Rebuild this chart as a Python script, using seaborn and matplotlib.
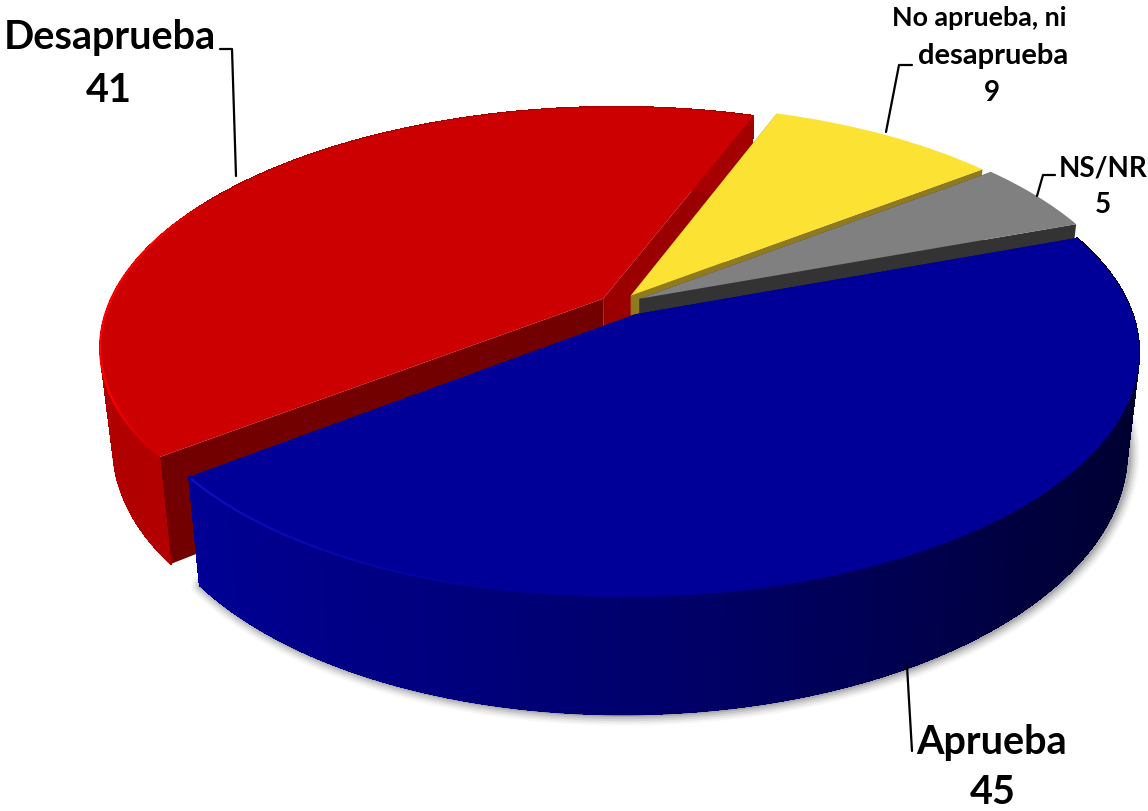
import numpy as np
import matplotlib
matplotlib.use("Agg")
import matplotlib.pyplot as plt
from matplotlib.transforms import Transform, Affine2D
from matplotlib.collections import PolyCollection, LineCollection
import seaborn as sns

# ---- data ----
categories = ["Aprueba", "Desaprueba", "No aprueba, ni\ndesaprueba", "NS/NR"]
values = [45, 41, 9, 5]

# ---- style ----
top_colors = ["#000099", "#CC0000", "#FBE233", "#808080"]
sns.set_theme(style="white")
palette = sns.color_palette(top_colors)
plt.rcParams["font.family"] = ["Lato", "DejaVu Sans"]

W, H = 1148, 812
CX, CY, A, B, C, K = 635, 313, 497, 231, 10, 0.18
DEPTH, SHRINK = 96, 0.976
offsets = [(0.0, -0.01), (-0.066, 0.058), (-0.010, 0.072), (0.008, 0.058)]
# wall colours along the angle (theta, rgb); pie angles run negative when clockwise
wall_stops = {
    0: [(-142, (0, 0, 150)), (-110, (0, 0, 128)), (-80, (0, 0, 100)), (-45, (0, 0, 62)), (-15, (0, 0, 48)), (25, (0, 0, 45))],
    1: [(-290, (165, 0, 0)), (-142, (178, 0, 0))],
}
# (wall at the later angle, wall at the earlier angle)
radial_colors = [
    ("#000080", "#000080"),
    ("#720000", "#9A0000"),
    ("#8F7A1E", "#8F7A1E"),
    ("#333333", "#333333"),
]


def project(u, v):
    w = 1 + K * v
    return CX + (A * u + C * v) / w, CY - B * v / w


def lower(x, y, v):
    return CX + (x - CX) * SHRINK, y + DEPTH / (1 + K * v)


class Perspective(Transform):
    input_dims = output_dims = 2
    has_inverted = False
    is_separable = False

    def transform_non_affine(self, values):
        x, y = project(values[:, 0], values[:, 1])
        return np.column_stack([x, y])


fig = plt.figure(figsize=(W / 100, H / 100), dpi=100, facecolor="white")
ax = fig.add_axes([0, 0, 1, 1])
wedges, _ = ax.pie(values, colors=palette, startangle=20.5, counterclock=False,
                   radius=1, wedgeprops={"linewidth": 0})
ax.set_aspect("auto")
ax.set_xlim(0, W)
ax.set_ylim(H, 0)
ax.axis("off")


def ring(theta_deg, du, dv):
    t = np.radians(theta_deg)
    return np.cos(t) + du, np.sin(t) + dv


def outer_wall(theta1, theta2, du, dv, stops, z):
    n = max(int((theta2 - theta1)) * 2, 2)
    th = np.linspace(theta1, theta2, n + 1)
    u, v = ring(th, du, dv)
    x, y = project(u, v)
    xb, yb = lower(x, y, v)
    polys, cols, segs = [], [], []
    sx = [s[0] for s in stops]
    for i in range(n):
        polys.append([(x[i], y[i]), (x[i + 1], y[i + 1]), (xb[i + 1], yb[i + 1]), (xb[i], yb[i])])
        segs.append([(xb[i], yb[i]), (xb[i + 1], yb[i + 1])])
        m = 0.5 * (th[i] + th[i + 1])
        cols.append([np.interp(m, sx, [s[1][c] for s in stops]) / 255 for c in range(3)])
    # hard-edged strips avoid seams; a smooth line cleans up the lower silhouette
    ax.add_collection(PolyCollection(polys, facecolors=cols, edgecolors=cols, linewidths=0.5,
                                     antialiaseds=False, zorder=z))
    ax.add_collection(LineCollection(segs, colors=cols, linewidths=1.2, zorder=z))


def radial_wall(theta, du, dv, color, z):
    u, v = ring(theta, du, dv)
    x1, y1 = project(u, v)
    x0, y0 = project(du, dv)
    xb1, yb1 = lower(x1, y1, v)
    xb0, yb0 = lower(x0, y0, dv)
    ax.fill([x0, x1, xb1, xb0], [y0, y1, yb1, yb0], color=color, lw=0, zorder=z)


# soft shadow under the big slice
blue = wedges[0]
th = np.linspace(blue.theta1, blue.theta1 + 140, 200)
u, v = ring(th, *offsets[0])
x, y = project(u, v)
xs, ys = lower(x, y, v)
for lw, al in zip([15, 12, 9, 6, 3], [0.035, 0.05, 0.07, 0.09, 0.12]):
    ax.plot(xs + 2, ys + 0.5, color="black", lw=lw, alpha=al, zorder=0.5, solid_capstyle="round")

# draw back to front: red, yellow, grey, blue
order = [1, 2, 3, 0]
for rank, i in enumerate(order):
    w = wedges[i]
    du, dv = offsets[i]
    base = 10 * (rank + 1)
    radial_wall(w.theta2, du, dv, radial_colors[i][0], base)
    radial_wall(w.theta1, du, dv, radial_colors[i][1], base + 1)
    if i in wall_stops:
        outer_wall(w.theta1, w.theta2, du, dv, wall_stops[i], base + 2)
    w.set_transform(Affine2D().translate(du, dv) + Perspective() + ax.transData)
    w.set_zorder(base + 3)
    w.set_clip_on(False)

# bright rim on the lit side
for i, (a, b, col) in {1: (150, 219, "#FF0000"), 0: (219, 262, "#1010C8")}.items():
    du, dv = offsets[i]
    th = np.linspace(a, b, 80)
    x, y = project(*ring(th, du, dv))
    segs = [[(x[j], y[j]), (x[j + 1], y[j + 1])] for j in range(len(th) - 1)]
    al = np.clip(np.sin(np.linspace(0, np.pi, len(segs))) * 1.6, 0, 1) if i == 1 else np.linspace(1, 0, len(segs))
    rgb = matplotlib.colors.to_rgb(col)
    ax.add_collection(LineCollection(segs, colors=[(*rgb, q) for q in al], linewidths=1.6,
                                     zorder=10 * (order.index(i) + 1) + 4))

# leader lines
leaders = [
    [(220, 50), (232, 50), (236, 177)],
    [(886, 133), (899, 66), (912, 66)],
    [(1037, 197), (1043, 176), (1055, 176)],
    [(907, 667), (912, 752)],
]
for pts in leaders:
    xs_, ys_ = zip(*pts)
    ax.plot(xs_, ys_, color="black", lw=1.6, zorder=60, clip_on=False)

# labels
big, small = 28.5, 20
tk = dict(ha="center", va="center", color="black", fontweight="bold", zorder=70)
ax.text(110, 38, categories[1], fontsize=big, **tk)
ax.text(109, 91, str(values[1]), fontsize=big, **tk)
ax.text(992, 743, categories[0], fontsize=big, **tk)
ax.text(993, 793, str(values[0]), fontsize=big, **tk)
line1, line2 = categories[2].split("\n")
ax.text(979, 18, line1, fontsize=19.4, **tk)
ax.text(993, 56, line2, fontsize=21, **tk)
ax.text(992, 93, str(values[2]), fontsize=small, **tk)
ax.text(1103, 168, categories[3], fontsize=small, **tk)
ax.text(1103, 205, str(values[3]), fontsize=small, **tk)

fig.savefig("out.png", dpi=100, facecolor="white")
